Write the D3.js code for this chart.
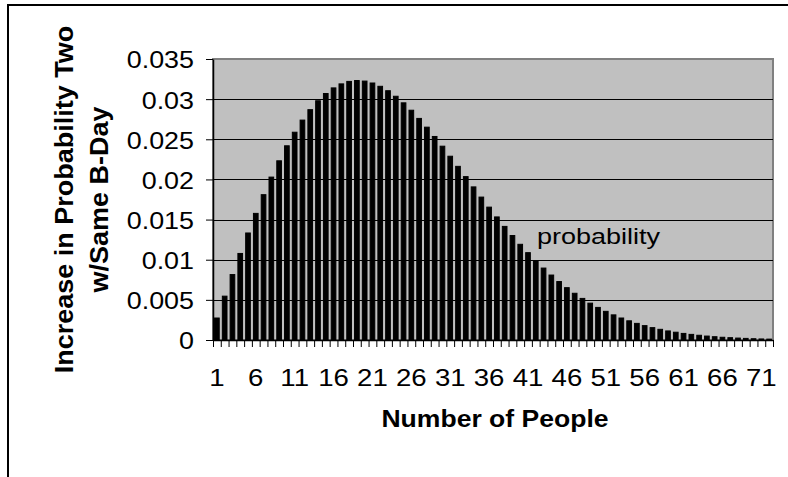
<!DOCTYPE html>
<html>
<head>
<meta charset="utf-8">
<script src="https://cdn.jsdelivr.net/npm/d3@7/dist/d3.min.js"></script>
<style>
  html, body { margin: 0; padding: 0; background: #fff; }
  svg { display: block; }
  text { font-family: "Liberation Sans", Arial, Helvetica, sans-serif; fill: #000; }
</style>
</head>
<body>
<svg id="chart" width="788" height="477"></svg>
<script>
// ---- data ----
const categories = [1,2,3,4,5,6,7,8,9,10,11,12,13,14,15,16,17,18,19,20,
  21,22,23,24,25,26,27,28,29,30,31,32,33,34,35,36,37,38,39,40,
  41,42,43,44,45,46,47,48,49,50,51,52,53,54,55,56,57,58,59,60,
  61,62,63,64,65,66,67,68,69,70,71,72];
const probability = [
  0.00274,0.00546,0.00815,0.01078,0.01333,0.01577,0.01810,0.02029,0.02232,0.02419,
  0.02588,0.02739,0.02869,0.02980,0.03070,0.03140,0.03190,0.03221,0.03232,0.03225,
  0.03201,0.03160,0.03105,0.03036,0.02954,0.02862,0.02760,0.02651,0.02535,0.02414,
  0.02289,0.02163,0.02035,0.01907,0.01780,0.01655,0.01533,0.01415,0.01301,0.01192,
  0.01088,0.00989,0.00896,0.00809,0.00728,0.00652,0.00582,0.00518,0.00459,0.00406,
  0.00357,0.00313,0.00274,0.00239,0.00207,0.00179,0.00154,0.00133,0.00113,0.00097,
  0.00082,0.00070,0.00059,0.00049,0.00041,0.00034,0.00029,0.00024,0.00020,0.00016,
  0.00013,0.00011];
const xTickLabels = ["1","6","11","16","21","26","31","36","41","46","51","56","61","66","71"];
const yTickValues = [0,0.005,0.01,0.015,0.02,0.025,0.03,0.035];
const yTickLabels = ["0","0.005","0.01","0.015","0.02","0.025","0.03","0.035"];
const seriesName = "probability";
const yTitleLines = ["Increase in Probability Two", "w/Same B-Day"];
const xTitle = "Number of People";

// ---- layout ----
const svg = d3.select("#chart");
const plot = {left: 213, right: 773, top: 59, bottom: 340};

// outer chart frame
svg.append("rect")
  .attr("x", 8).attr("y", 5).attr("width", 820).attr("height", 520)
  .attr("fill", "#fff").attr("stroke", "#000").attr("stroke-width", 2);

const x = d3.scaleBand()
  .domain(categories)
  .range([plot.left, plot.right])
  .paddingInner(0.4).paddingOuter(0.2);
const xb = d3.scaleLinear().domain([0, categories.length]).range([plot.left, plot.right]);
const y = d3.scaleLinear().domain([0, 0.035]).range([plot.bottom, plot.top]);

// plot area background
svg.append("rect")
  .attr("x", plot.left).attr("y", plot.top)
  .attr("width", plot.right - plot.left).attr("height", plot.bottom - plot.top)
  .attr("fill", "#c0c0c0").attr("stroke", "#808080").attr("stroke-width", 2);

// gridlines
svg.append("g").selectAll("line")
  .data(yTickValues.filter(v => v > 0 && v < 0.035))
  .join("line")
  .attr("x1", plot.left).attr("x2", plot.right)
  .attr("y1", d => Math.round(y(d)) + 0.5).attr("y2", d => Math.round(y(d)) + 0.5)
  .attr("stroke", "#000").attr("stroke-width", 1);

// bars
svg.append("g").selectAll("rect")
  .data(categories.map((c, i) => ({c, v: probability[i]})))
  .join("rect")
  .attr("x", d => x(d.c))
  .attr("width", x.bandwidth())
  .attr("y", d => y(d.v))
  .attr("height", d => y(0) - y(d.v))
  .attr("fill", "#000")
  .attr("stroke", "#000").attr("stroke-width", 1);

// y axis
const yAxis = svg.append("g")
  .attr("transform", `translate(${plot.left},0)`)
  .call(d3.axisLeft(y).tickValues(yTickValues)
    .tickFormat((d, i) => yTickLabels[i]).tickSize(7).tickSizeOuter(0));
yAxis.select(".domain").attr("stroke", "#000").attr("stroke-width", 1.5);
yAxis.selectAll(".tick line").attr("stroke", "#000");
yAxis.selectAll(".tick text")
  .attr("x", 0).attr("dy", "0.37em")
  .attr("text-anchor", "end")
  .attr("transform", "translate(-19,0) scale(1.12,1)")
  .style("font-size", "24px")
  .style("font-family", "'Liberation Sans', Arial, sans-serif");

// x axis (tick marks on category boundaries)
const xAxis = svg.append("g")
  .attr("transform", `translate(0,${plot.bottom})`)
  .call(d3.axisBottom(xb).tickValues(d3.range(0, categories.length + 1))
    .tickFormat("").tickSize(7).tickSizeOuter(0));
xAxis.select(".domain").attr("stroke", "#000").attr("stroke-width", 1.5);
xAxis.selectAll(".tick line").attr("stroke", "#000");

// x tick labels
svg.append("g").selectAll("text")
  .data(xTickLabels)
  .join("text")
  .attr("transform", d => `translate(${x(+d) + x.bandwidth() / 2},386) scale(1.15,1)`)
  .attr("text-anchor", "middle")
  .style("font-size", "24px")
  .text(d => d);

// series label
svg.append("text")
  .attr("transform", "translate(537,244) scale(1.2,1)")
  .style("font-size", "22.5px")
  .text(seriesName);

// x title
svg.append("text")
  .attr("transform", `translate(${(plot.left + plot.right) / 2 + 2},427) scale(1.13,1)`)
  .attr("text-anchor", "middle")
  .style("font-size", "23.5px").style("font-weight", "bold")
  .text(xTitle);

// y title (two lines)
const cy = (plot.top + plot.bottom) / 2;
svg.append("text")
  .attr("transform", `translate(73,${cy}) rotate(-90) scale(1.08,1)`)
  .attr("text-anchor", "middle")
  .style("font-size", "25px").style("font-weight", "bold")
  .text(yTitleLines[0]);
svg.append("text")
  .attr("transform", `translate(108,${cy}) rotate(-90) scale(1.08,1)`)
  .attr("text-anchor", "middle")
  .style("font-size", "25px").style("font-weight", "bold")
  .text(yTitleLines[1]);
</script>
</body>
</html>
